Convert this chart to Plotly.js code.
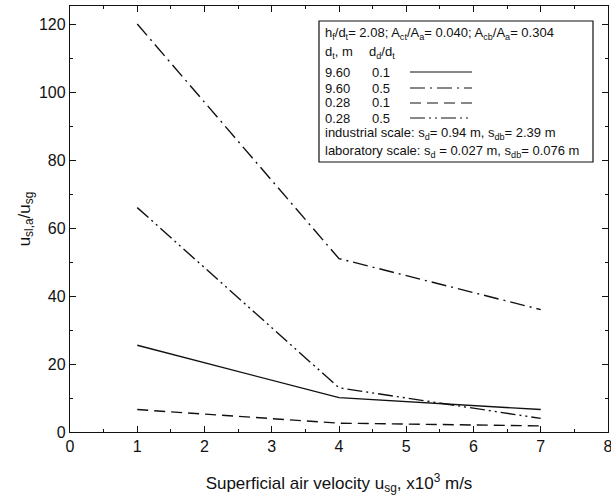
<!DOCTYPE html>
<html><head><meta charset="utf-8">
<script src="https://cdn.plot.ly/plotly-3.0.1.min.js"></script>
<style>html,body{margin:0;padding:0;background:#fff;}#chart{width:611px;height:504px;}</style>
</head><body><div id="chart"></div>
<script>
const xVel = [1, 4, 7];
const s1 = [25.5, 10.1, 6.6];   // d_t 9.60, d_d/d_t 0.1
const s2 = [120, 51, 36];       // d_t 9.60, d_d/d_t 0.5
const s3 = [6.6, 2.6, 1.8];     // d_t 0.28, d_d/d_t 0.1
const s4 = [66, 13, 4];         // d_t 0.28, d_d/d_t 0.5
const dtLabels = ["9.60", "9.60", "0.28", "0.28"];
const ratioLabels = ["0.1", "0.5", "0.1", "0.5"];

const F = "Liberation Sans, Arial, Helvetica, sans-serif";
const INK = "#111";
const dashes = ["solid", "15px,5px,2px,5px", "11px,6px", "15px,4px,2px,4px,2px,4px"];
const series = [s1, s2, s3, s4];

const traces = series.map((s, i) => ({
  x: xVel, y: s, type: "scatter", mode: "lines",
  line: {color: INK, width: 1.4, dash: dashes[i]},
  showlegend: false, hoverinfo: "skip"
}));

const L = 70, R = 3, T = 6, B = 72, W = 611, H = 504;
const pw = W - L - R, ph = H - T - B;
const px = v => (v - L) / pw;
const py = v => (H - B - v) / ph;

const ann = [];
const shapes = [];
function txt(x, y, t, size) {
  ann.push({xref: "paper", yref: "paper", x: px(x), y: py(y), text: t, showarrow: false,
    xanchor: "left", yanchor: "middle", font: {family: F, size: size || 13, color: INK}});
}
txt(323, 33, "h<sub>f</sub>/d<sub>t</sub>= 2.08; A<sub>ct</sub>/A<sub>a</sub>= 0.040; A<sub>cb</sub>/A<sub>a</sub>= 0.304");
txt(323, 52, "d<sub>t</sub>, m");
txt(367, 52, "d<sub>d</sub>/d<sub>t</sub>");
const rowY = [72, 88, 103, 118];
for (let i = 0; i < 4; i++) {
  txt(323, rowY[i], dtLabels[i]);
  txt(370, rowY[i], ratioLabels[i]);
  shapes.push({type: "line", xref: "paper", yref: "paper", x0: px(410), x1: px(472), y0: py(rowY[i]), y1: py(rowY[i]),
    line: {color: INK, width: 1.2, dash: dashes[i]}});
}
txt(323, 133, "industrial scale: s<sub>d</sub>= 0.94 m, s<sub>db</sub>= 2.39 m");
txt(323, 152, "laboratory scale: s<sub>d</sub> = 0.027 m, s<sub>db</sub>= 0.076 m");
shapes.push({type: "rect", xref: "paper", yref: "paper", x0: px(319), x1: px(593), y0: py(162), y1: py(21),
  line: {color: INK, width: 1.2}, fillcolor: "rgba(0,0,0,0)"});

const layout = {
  width: W, height: H,
  margin: {l: L, r: R, t: T, b: B},
  paper_bgcolor: "#fff", plot_bgcolor: "#fff",
  font: {family: F, size: 16, color: INK},
  xaxis: {range: [0, 8], dtick: 1, tick0: 0, ticks: "inside", ticklen: 6, tickcolor: INK,
    showline: true, linecolor: INK, linewidth: 1.2, mirror: "ticks", showgrid: false, zeroline: false,
    ticklabeloverflow: "allow", automargin: false,
    minor: {dtick: 0.5, ticks: "inside", ticklen: 3, tickcolor: INK, showgrid: false},
    tickfont: {family: F, size: 16, color: INK},
    title: {text: "Superficial air velocity u<sub>sg</sub>, x10<sup>3</sup> m/s", font: {family: F, size: 17, color: INK}, standoff: 22}},
  yaxis: {range: [0, 125.3], dtick: 20, tick0: 0, ticks: "inside", ticklen: 6, tickcolor: INK,
    showline: true, linecolor: INK, linewidth: 1.2, mirror: "ticks", showgrid: false, zeroline: false,
    automargin: false,
    minor: {dtick: 10, ticks: "inside", ticklen: 3, tickcolor: INK, showgrid: false},
    tickfont: {family: F, size: 16, color: INK},
    title: {text: "u<sub>sl,a</sub>/u<sub>sg</sub>", font: {family: F, size: 17, color: INK}, standoff: 4}},
  annotations: ann, shapes: shapes, showlegend: false
};
Plotly.newPlot("chart", traces, layout, {staticPlot: true, displayModeBar: false});
</script></body></html>
